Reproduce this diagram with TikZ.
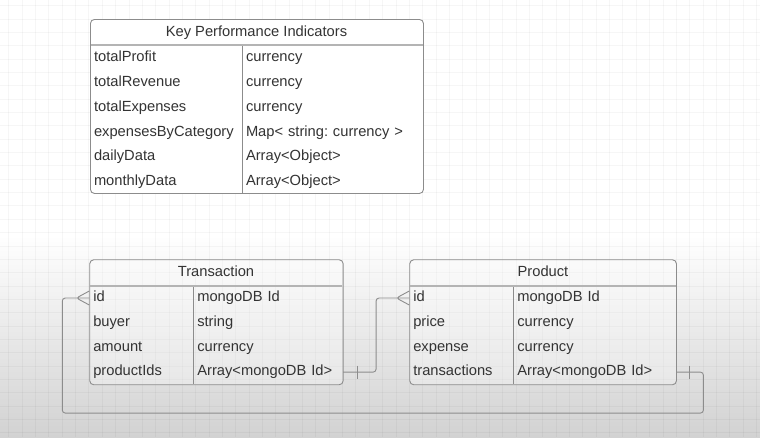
\documentclass[tikz,border=0pt]{standalone}
\usepackage{fontspec}
\setmainfont{Liberation Sans}
\usetikzlibrary{calc}
\definecolor{linegray}{HTML}{8C8C8C}
\definecolor{sepgray}{HTML}{B4B4B4}
\definecolor{txtgray}{HTML}{333333}
\definecolor{bggray}{HTML}{D2D2D2}
\newcommand{\erfont}{\fontsize{14.7}{17}\selectfont\frenchspacing}
\begin{document}
\begin{tikzpicture}[x=1pt,y=-1pt,
  gridline/.style={black,opacity=0.035,line width=0.8pt},
  table/.style={draw=linegray,line width=0.9pt,rounded corners=4pt,anchor=north west,inner sep=0pt},
  hdr/.style={font=\erfont,text=txtgray,inner sep=0pt,text height=10.5pt,text depth=3pt},
  cell/.style={anchor=west,inner xsep=3.8pt,inner ysep=0pt,text height=10.5pt,text depth=3pt,
    text width=#1,align=left,font=\erfont,text=txtgray},
  sepline/.style={draw=sepgray,line width=2pt},
  colline/.style={draw=linegray,line width=0.9pt},
  link/.style={draw=linegray,line width=0.9pt,rounded corners=3pt}]
  \useasboundingbox (0,0) rectangle (760,437);
  % background with grid
  \fill[white] (0,0) rectangle (760,437);
  \shade[top color=white,bottom color=bggray] (0,235) rectangle (760,437);
  \foreach \g in {0,...,56}
    \draw[gridline] ({8.75+13.35*\g},0) -- ++(0,437);
  \foreach \g in {0,...,32}
    \draw[gridline] (0,{5.6+13.35*\g}) -- ++(760,0);

  % Key Performance Indicators
  \node[table,fill=white,minimum width=333pt,minimum height=174pt] (kpi) at (90,19) {};
  \node[hdr] (khead) at (256.5,33) {Key Performance Indicators};
  \draw[sepline] (90.5,45) -- (422.5,45);
  \draw[colline] (242,46) -- (242,193);
  \foreach \n/\t [count=\i from 0] in {totalProfit/currency,totalRevenue/currency,
      totalExpenses/currency,expensesByCategory/Map< string: currency >,
      dailyData/Array<Object>,monthlyData/Array<Object>}{
    \node[cell=144.4pt] (kname\i) at (90,{58+24.8*\i}) {\n};
    \node[cell=173.4pt] (ktype\i) at (242,{58+24.8*\i}) {\t};
  }

  % Transaction
  \node[table,fill=white,fill opacity=0.3,minimum width=253.4pt,minimum height=125pt] (trans) at (89.3,259.3) {};
  \node[hdr] (thead) at (216,273) {Transaction};
  \draw[sepline] (89.8,286) -- (342.2,286);
  \draw[colline] (193.3,287) -- (193.3,384.3);
  \foreach \n/\t [count=\i from 0] in {id/mongoDB Id,buyer/string,
      amount/currency,productIds/Array<mongoDB Id>}{
    \node[cell=96.4pt] (tname\i) at (89.3,{298+24.7*\i}) {\n};
    \node[cell=141.8pt] (ttype\i) at (193.3,{298+24.7*\i}) {\t};
  }

  % Product
  \node[table,fill=white,fill opacity=0.3,minimum width=266.7pt,minimum height=125pt] (prod) at (409.3,259.3) {};
  \node[hdr] (phead) at (543,273) {Product};
  \draw[sepline] (409.8,286) -- (675.5,286);
  \draw[colline] (513.3,287) -- (513.3,384.3);
  \foreach \n/\t [count=\i from 0] in {id/mongoDB Id,price/currency,
      expense/currency,transactions/Array<mongoDB Id>}{
    \node[cell=96.4pt] (pname\i) at (409.3,{298+24.7*\i}) {\n};
    \node[cell=155.1pt] (ptype\i) at (513.3,{298+24.7*\i}) {\t};
  }

  % relations
  \draw[link] (ttype3.east) -- ++(33,0) |- (pname0.west);
  \draw[link] ($(ttype3.east)+(14,-6.5)$) -- ++(0,13);
  \draw[link] ($(pname0.west)+(0,-7)$) -- ++(-13,7) -- ++(13,7);
  \draw[link] (ptype3.east) -- ++(27,0) -- ++(0,41) -| ($(tname0.west)+(-27,0)$) -- (tname0.west);
  \draw[link] ($(ptype3.east)+(13,-6.5)$) -- ++(0,13);
  \draw[link] ($(tname0.west)+(0,-7)$) -- ++(-13,7) -- ++(13,7);
\end{tikzpicture}
\end{document}
